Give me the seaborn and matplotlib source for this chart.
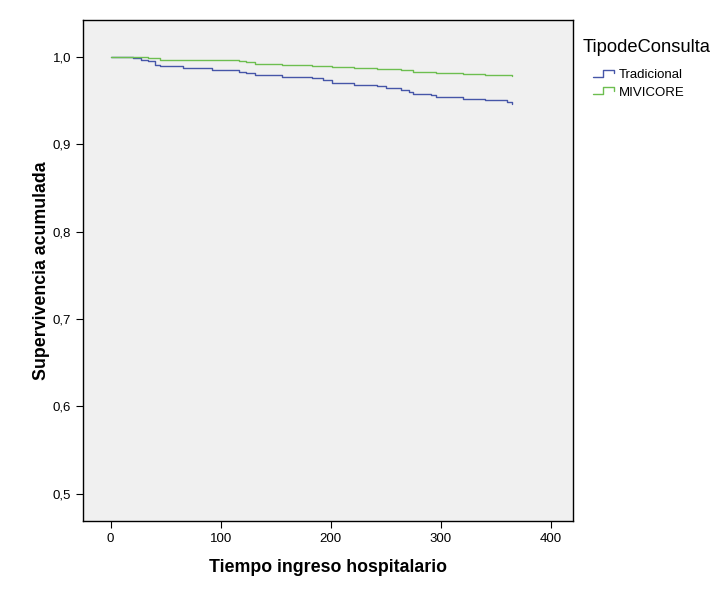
import matplotlib
matplotlib.use("Agg")
import matplotlib.pyplot as plt
from matplotlib.legend_handler import HandlerLine2D
from matplotlib.lines import Line2D
import pandas as pd
import seaborn as sns

# Curvas de supervivencia (tiempo en dias)
tiempoTradicional = [0, 20, 28, 34, 40, 45, 66, 92, 117, 123, 131, 156, 183, 193, 201,
                     221, 242, 250, 264, 271, 275, 291, 296, 320, 340, 360, 365]
survTradicional = [1.0, 0.9985, 0.9966, 0.9947, 0.991, 0.989, 0.987, 0.985, 0.983, 0.981,
                   0.979, 0.977, 0.9756, 0.973, 0.970, 0.968, 0.966, 0.964, 0.962, 0.9597,
                   0.9577, 0.9566, 0.954, 0.9517, 0.950, 0.948, 0.946]

tiempoMivicore = [0, 20, 34, 45, 66, 117, 123, 131, 156, 183, 201, 221, 242, 264, 275,
                  291, 296, 320, 340, 360, 365]
survMivicore = [1.0, 0.9992, 0.9985, 0.9966, 0.9958, 0.9947, 0.9935, 0.992, 0.991, 0.9897,
                0.988, 0.987, 0.986, 0.9844, 0.983, 0.982, 0.981, 0.980, 0.9794, 0.9786, 0.978]

grupos = ['Tradicional', 'MIVICORE']
colores = ['#4656A8', '#6DBE50']
yTicks = [0.5, 0.6, 0.7, 0.8, 0.9, 1.0]
xTicks = [0, 100, 200, 300, 400]


class HandlerEscalon(HandlerLine2D):
    # simbolo de escalon como en la leyenda de SPSS
    def create_artists(self, legend, orig_handle, xdescent, ydescent, width, height, fontsize, trans):
        x0 = -xdescent
        y0 = -ydescent
        xs = [x0, x0 + 0.45 * width, x0 + 0.45 * width, x0 + width, x0 + width]
        ys = [y0 + 0.2 * height, y0 + 0.2 * height, y0 + 0.85 * height, y0 + 0.85 * height, y0 + 0.55 * height]
        linea = Line2D(xs, ys, color=orig_handle.get_color(), linewidth=1.0, transform=trans)
        return [linea]


df = pd.concat([
    pd.DataFrame({'tiempo': tiempoTradicional, 'surv': survTradicional, 'TipodeConsulta': 'Tradicional'}),
    pd.DataFrame({'tiempo': tiempoMivicore, 'surv': survMivicore, 'TipodeConsulta': 'MIVICORE'}),
])

sns.set_style('white')
plt.rcParams['font.family'] = ['Liberation Sans', 'DejaVu Sans']
plt.rcParams['text.color'] = 'black'
plt.rcParams['axes.labelcolor'] = 'black'
plt.rcParams['xtick.color'] = 'black'
plt.rcParams['ytick.color'] = 'black'

fig = plt.figure(figsize=(7.19, 5.96), dpi=100)
ax = fig.add_axes([0.1154, 0.1258, 0.6816, 0.8406])
ax.set_facecolor('#f0f0f0')

sns.lineplot(data=df, x='tiempo', y='surv', hue='TipodeConsulta', hue_order=grupos,
             palette=colores, estimator=None, sort=False, drawstyle='steps-post',
             linewidth=1.0, legend=False, ax=ax)

ax.set_xlim(-25, 420)
ax.set_ylim(0.469, 1.042)
ax.set_xticks(xTicks)
ax.set_xticklabels([str(v) for v in xTicks], fontsize=9.5)
ax.set_yticks(yTicks)
ax.set_yticklabels([('%.1f' % v).replace('.', ',') for v in yTicks], fontsize=9.5)
ax.tick_params(axis='both', direction='out', length=5, width=0.8, color='black',
               bottom=True, left=True, top=False, right=False)

for s in ax.spines.values():
    s.set_color('black')
    s.set_linewidth(1.0)

ax.set_xlabel('Tiempo ingreso hospitalario', fontsize=12.8, fontweight='bold', labelpad=10)
ax.set_ylabel('Supervivencia acumulada', fontsize=12.8, fontweight='bold', labelpad=2)

# Leyenda
fig.text(583 / 719, 1 - 47 / 596, 'TipodeConsulta', fontsize=13.2, ha='left', va='center')
handles = [Line2D([], [], color=c) for c in colores]
ax.legend(handles, grupos, loc='upper left', bbox_to_anchor=(593 / 719, 1 - 68 / 596),
          bbox_transform=fig.transFigure, frameon=False, fontsize=9.5,
          handlelength=1.6, handleheight=0.9, handletextpad=0.35, labelspacing=0.35,
          borderpad=0, borderaxespad=0,
          handler_map={Line2D: HandlerEscalon()})

fig.savefig('out.png', dpi=100)
